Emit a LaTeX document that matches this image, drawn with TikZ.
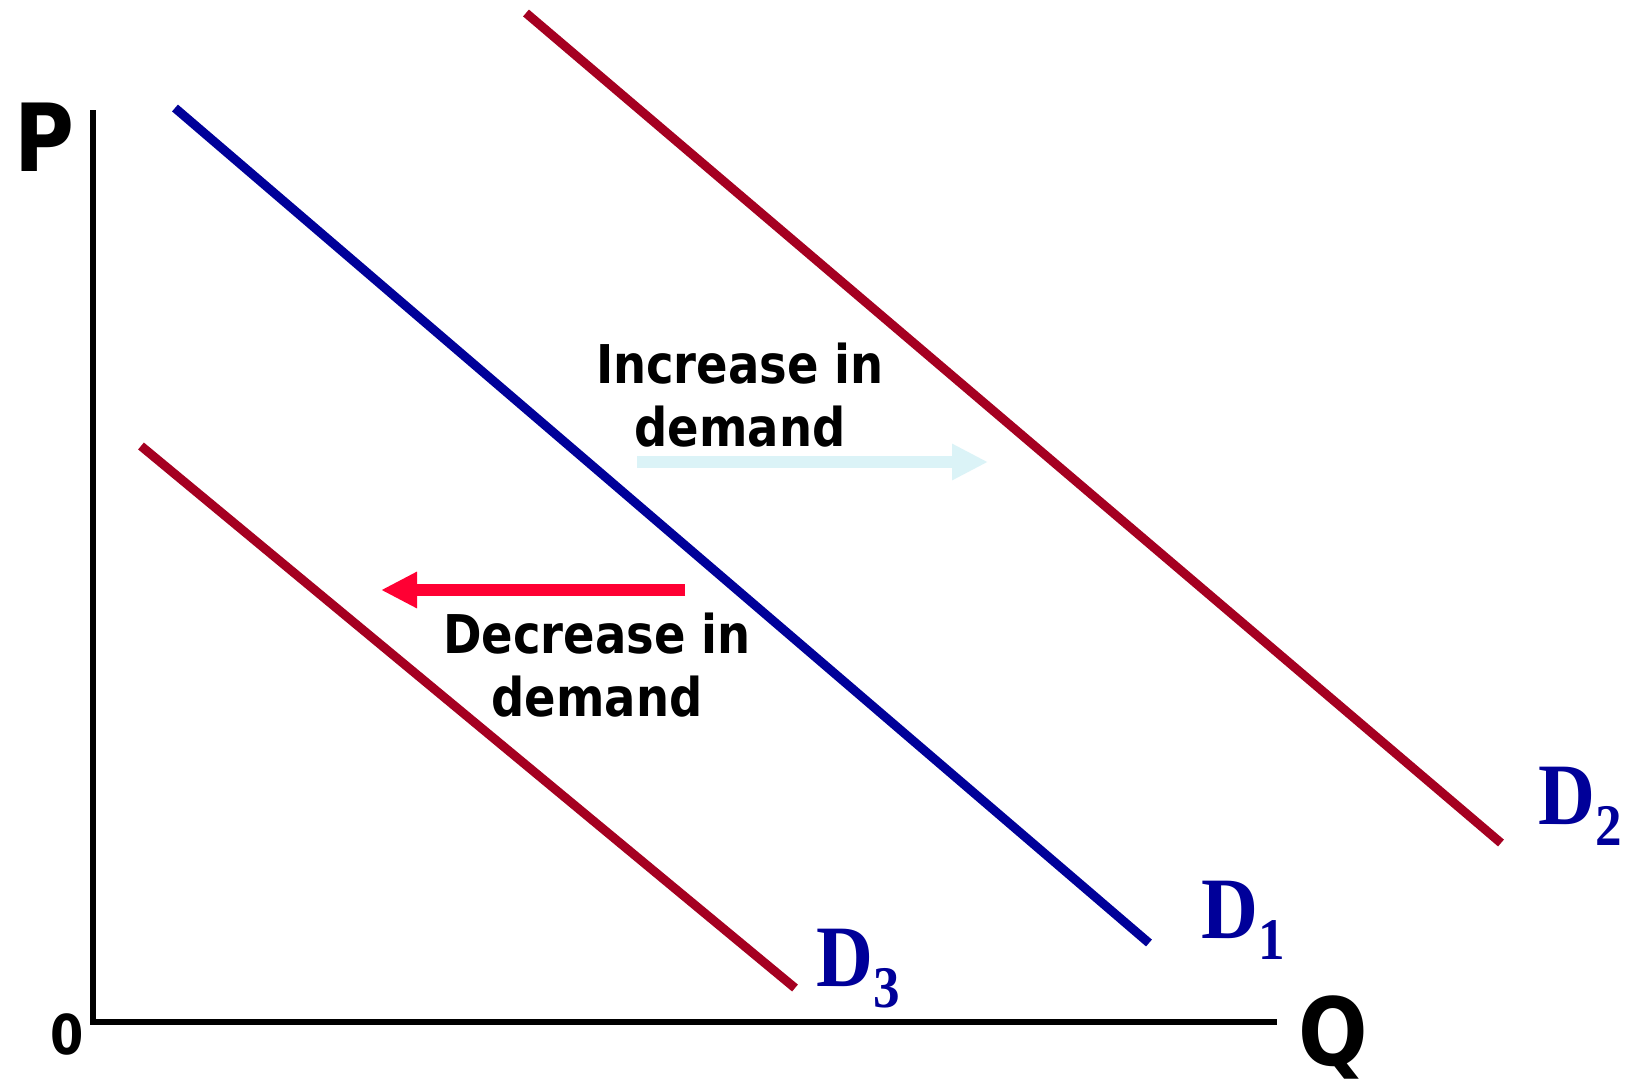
\documentclass[tikz,border=0pt]{standalone}
\usepackage{fontspec}
\newfontfamily\sanslbl[FakeStretch=0.87]{DejaVu Sans}
\newfontfamily\seriflbl[FakeStretch=0.9]{Liberation Serif}
\usetikzlibrary{arrows.meta}
\definecolor{ddblue}{HTML}{000099}
\definecolor{ddred}{HTML}{A50021}
\definecolor{ddcyan}{HTML}{DBF3F7}
\definecolor{ddarrow}{HTML}{FF0033}
\newcommand{\dname}[1]{{\seriflbl\bfseries\fontsize{43.8}{44}\selectfont D}\raisebox{-10.5pt}{\seriflbl\bfseries\fontsize{29.5}{30}\selectfont #1}}

\begin{document}
\begin{tikzpicture}[x=0.5pt,y=-0.5pt,
  axis/.style={line width=2.7pt,black},
  dline/.style={line width=4.5pt},
  shiftarr/.style={line width=5.85pt,-{Triangle[length=18pt,width=17pt]}},
  lbl/.style={inner sep=0pt,anchor=north,align=center,
    font=\sanslbl\bfseries\fontsize{26.7}{31.5}\selectfont},
  ax/.style={inner sep=0pt,anchor=north west,font=\sanslbl\bfseries\fontsize{47}{47}\selectfont},
  dlbl/.style={inner sep=0pt,anchor=base west,text=ddblue}]
  \fill[white] (0,0) rectangle (1635,1083);
  \useasboundingbox (0,0) rectangle (1635,1083);
  % axes
  \coordinate (top) at (93,110);
  \coordinate (origin) at (93,1022);
  \coordinate (right) at (1277,1022);
  \draw[axis] (top) -- (origin) -- (right);
  \node[ax] (p) at (14,103) {P};
  \node[ax] (q) at (1298,995) {Q};
  \node[ax,font=\sanslbl\bfseries\fontsize{27.5}{28}\selectfont] (zero) at (50,1013) {0};
  % demand curves
  \coordinate (d1a) at (175,108);
  \coordinate (d1b) at (1149,943);
  \coordinate (d2a) at (526,13);
  \coordinate (d2b) at (1501,843);
  \coordinate (d3a) at (141,446);
  \coordinate (d3b) at (795,988);
  \draw[dline,ddblue] (d1a) -- (d1b);
  \draw[dline,ddred] (d2a) -- (d2b);
  \draw[dline,ddred] (d3a) -- (d3b);
  \node[dlbl] (n1) at (1201,938) {\dname{1}};
  \node[dlbl] (n2) at (1538,824) {\dname{2}};
  \node[dlbl] (n3) at (816,986) {\dname{3}};
  % shifts
  \coordinate (upa) at (637,462);
  \coordinate (upb) at (988,462);
  \coordinate (dna) at (685,590);
  \coordinate (dnb) at (381,590);
  \draw[shiftarr,ddcyan] (upa) -- (upb);
  \draw[shiftarr,ddarrow] (dna) -- (dnb);
  \node[lbl] (inc) at (740,343) {Increase in\\demand};
  \node[lbl] (dec) at (597,613) {Decrease in\\demand};
\end{tikzpicture}
\end{document}
